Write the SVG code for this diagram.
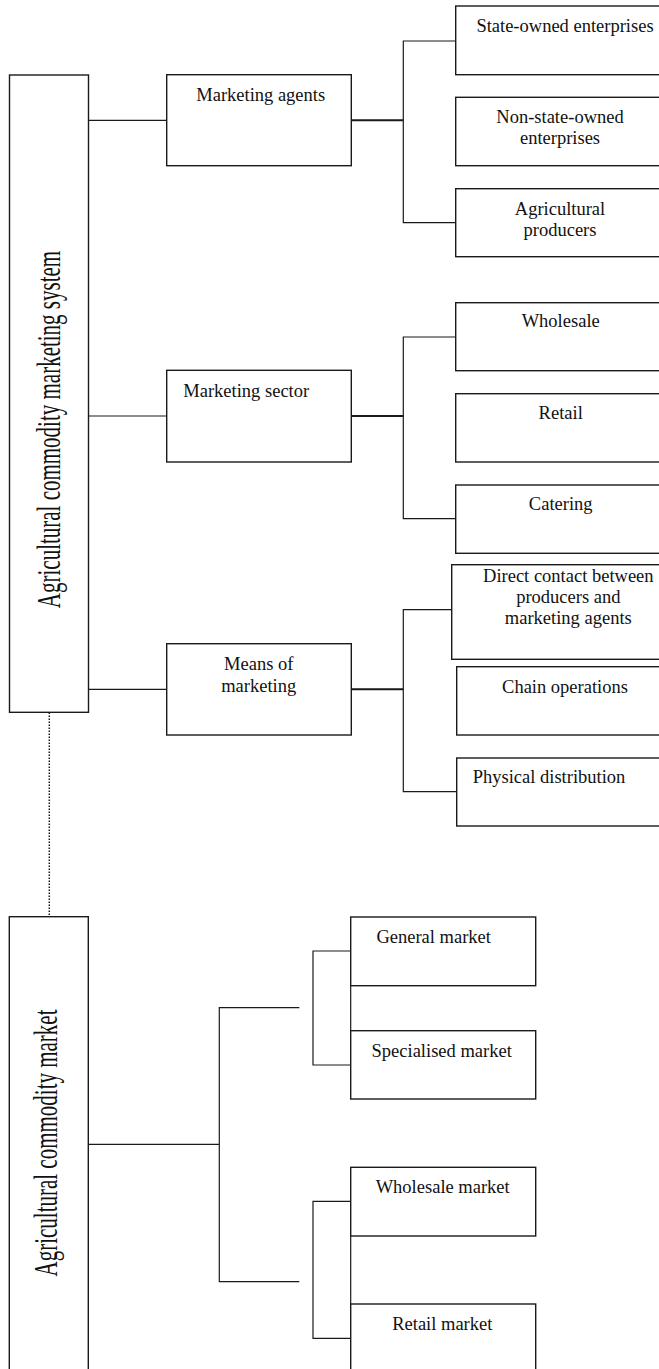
<svg xmlns="http://www.w3.org/2000/svg" width="659" height="1369" viewBox="0 0 659 1369">
  <style>
    .box { fill: #fff; stroke: #1a1a1a; stroke-width: 1.4; }
    .ln { fill: none; stroke: #1a1a1a; stroke-width: 1.2; }
    .ln2 { fill: none; stroke: #1a1a1a; stroke-width: 2; }
    .dot { fill: none; stroke: #1a1a1a; stroke-width: 1.5; stroke-dasharray: 1.5 1.5; }
    text { font-family: "Liberation Serif", "Times New Roman", serif; font-size: 18.5px; fill: #111; }
    .c { text-anchor: middle; }
    .big { font-size: 21px; text-anchor: middle; }
  </style>

  <!-- connectors -->
  <g id="connectors">
    <!-- marketing system to its three branches -->
    <path class="ln" d="M88.5 120.3H167 M88.5 416H167 M88.5 689.3H167"/>
    <path class="ln2" d="M351.3 120.3H403.3 M351.3 416H403.3 M351.3 689.3H403.3"/>
    <!-- marketing agents children -->
    <path class="ln" d="M456 41H403.3V222.7H456"/>
    <!-- marketing sector children -->
    <path class="ln" d="M456 337H403.3V518.7H456"/>
    <!-- means of marketing children -->
    <path class="ln" d="M456.7 609.7H403.3V791.7H456.7"/>
    <!-- link between the two structures -->
    <path class="dot" d="M49.3 712.5V916.5"/>
    <!-- commodity market tree -->
    <path class="ln" d="M88.5 1144.3H219.3 M299.3 1007.7H219.3V1281.7H299.3"/>
    <path class="ln" d="M350.7 951H313V1065H350.7 M350.7 917V1099"/>
    <path class="ln" d="M350.7 1201.3H313V1338.3H350.7 M350.7 1167.3V1369"/>
  </g>

  <g id="marketing-system">
    <rect class="box" x="9.5" y="75" width="79" height="637.3"/>
    <text class="big" transform="translate(59.5 429.5) rotate(-90) scale(1 1.6)">Agricultural commodity marketing system</text>
  </g>

  <g id="marketing-agents">
    <rect class="box" x="166.7" y="74.7" width="184.6" height="91"/>
    <text class="c" x="260.7" y="100.7">Marketing agents</text>
  </g>
  <g id="state-owned">
    <rect class="box" x="455.7" y="6" width="215" height="68.7"/>
    <text class="c" x="565" y="31.7">State-owned enterprises</text>
  </g>
  <g id="non-state-owned">
    <rect class="box" x="455.7" y="97.3" width="215" height="68.4"/>
    <text class="c" x="560" y="123.3">Non-state-owned</text>
    <text class="c" x="560" y="144">enterprises</text>
  </g>
  <g id="agricultural-producers">
    <rect class="box" x="455.7" y="188.7" width="215" height="68"/>
    <text class="c" x="560" y="215">Agricultural</text>
    <text class="c" x="560" y="235.7">producers</text>
  </g>

  <g id="marketing-sector">
    <rect class="box" x="166.7" y="370.3" width="184.6" height="91.7"/>
    <text x="183.3" y="396.7">Marketing sector</text>
  </g>
  <g id="wholesale">
    <rect class="box" x="455.7" y="302.7" width="215" height="68"/>
    <text class="c" x="560.7" y="327.3">Wholesale</text>
  </g>
  <g id="retail">
    <rect class="box" x="455.7" y="393.7" width="215" height="68.3"/>
    <text class="c" x="560.7" y="419">Retail</text>
  </g>
  <g id="catering">
    <rect class="box" x="455.7" y="485" width="215" height="68.3"/>
    <text class="c" x="560.7" y="510">Catering</text>
  </g>

  <g id="means-of-marketing">
    <rect class="box" x="166.7" y="643.7" width="184.6" height="91.3"/>
    <text class="c" x="258.7" y="670">Means of</text>
    <text class="c" x="258.7" y="691.7">marketing</text>
  </g>
  <g id="direct-contact">
    <rect class="box" x="451.7" y="564.7" width="219" height="94.6"/>
    <text class="c" x="568.3" y="581.7">Direct contact between</text>
    <text class="c" x="568.3" y="603.3">producers and</text>
    <text class="c" x="568.3" y="624">marketing agents</text>
  </g>
  <g id="chain-operations">
    <rect class="box" x="456.7" y="666.7" width="214" height="68.3"/>
    <text class="c" x="565" y="692.7">Chain operations</text>
  </g>
  <g id="physical-distribution">
    <rect class="box" x="456.7" y="758" width="214" height="68"/>
    <text x="472.7" y="782.7">Physical distribution</text>
  </g>

  <g id="commodity-market">
    <rect class="box" x="9.3" y="916.7" width="79" height="470"/>
    <text class="big" transform="translate(57 1143) rotate(-90) scale(1 1.6)">Agricultural commodity market</text>
  </g>
  <g id="general-market">
    <rect class="box" x="350.7" y="917" width="185" height="68.7"/>
    <text class="c" x="433.7" y="943.3">General market</text>
  </g>
  <g id="specialised-market">
    <rect class="box" x="350.7" y="1030.7" width="185" height="68.3"/>
    <text class="c" x="441.7" y="1057.3">Specialised market</text>
  </g>
  <g id="wholesale-market">
    <rect class="box" x="350.7" y="1167.3" width="185" height="68.7"/>
    <text class="c" x="442.7" y="1192.7">Wholesale market</text>
  </g>
  <g id="retail-market">
    <rect class="box" x="350.7" y="1304" width="185" height="80"/>
    <text class="c" x="442.3" y="1330">Retail market</text>
  </g>
</svg>
